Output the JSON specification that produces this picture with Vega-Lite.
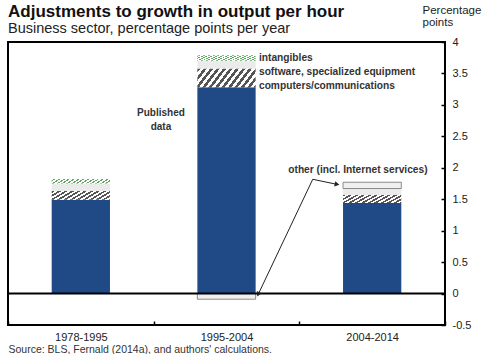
{
  "$schema": "https://vega.github.io/schema/vega-lite/v6.json",
  "width": 437,
  "height": 283,
  "autosize": "none",
  "padding": {"left": 8, "top": 42, "right": 43, "bottom": 29},
  "background": "white",
  "config": {"font": "Liberation Sans", "view": {"stroke": "black", "strokeWidth": 2}, "axis": {"labelOverlap": false}},
  "title": {
    "text": "Adjustments to growth in output per hour",
    "subtitle": "Business sector, percentage points per year",
    "anchor": "start",
    "frame": "group",
    "fontSize": 17,
    "fontWeight": "bold",
    "color": "#111111",
    "subtitleFontSize": 14.5,
    "subtitleColor": "#222222",
    "subtitlePadding": 1,
    "offset": -32
  },
  "datasets": {
    "bars": [
      {"period": "1978-1995", "component": "published", "ord": 1, "value": 1.49},
      {"period": "1978-1995", "component": "computers", "ord": 2, "value": 0.14},
      {"period": "1978-1995", "component": "software", "ord": 3, "value": 0.12},
      {"period": "1978-1995", "component": "intangibles", "ord": 4, "value": 0.07},
      {"period": "1995-2004", "component": "published", "ord": 1, "value": 3.28},
      {"period": "1995-2004", "component": "computers", "ord": 2, "value": 0.30},
      {"period": "1995-2004", "component": "software", "ord": 3, "value": 0.12},
      {"period": "1995-2004", "component": "intangibles", "ord": 4, "value": 0.09},
      {"period": "1995-2004", "component": "other", "ord": 5, "value": -0.09},
      {"period": "2004-2014", "component": "published", "ord": 1, "value": 1.44},
      {"period": "2004-2014", "component": "computers", "ord": 2, "value": 0.13},
      {"period": "2004-2014", "component": "software", "ord": 3, "value": 0.10},
      {"period": "2004-2014", "component": "other", "ord": 5, "value": 0.10}
    ],
    "arrowline": [
      {"o": 0, "ax": 2.259, "ay": 1.736},
      {"o": 1, "ax": 2.092, "ay": 1.817},
      {"o": 2, "ax": 1.718, "ay": -0.011}
    ],
    "labels": [
      {"label": "intangibles", "ax": 1.723, "ay": 3.75},
      {"label": "software, specialized equipment", "ax": 1.723, "ay": 3.53},
      {"label": "computers/communications", "ax": 1.723, "ay": 3.30},
      {"label": "other (incl. Internet services)", "ax": 1.924, "ay": 1.965}
    ]
  },
  "layer": [
    {
      "data": {"name": "bars"},
      "mark": {"type": "bar", "width": {"band": 0.4}, "strokeWidth": 1},
      "encoding": {
        "x": {
          "field": "period",
          "type": "nominal",
          "sort": null,
          "scale": {"paddingInner": 0, "paddingOuter": 0},
          "axis": {
            "title": "Source: BLS, Fernald (2014a), and authors' calculations.",
            "labelAngle": 0,
            "tickBand": "extent",
            "domain": false,
            "offset": -4,
            "tickSize": 4,
            "tickColor": "black",
            "tickWidth": 1.5,
            "labelPadding": 6,
            "labelFontSize": 11,
            "labelColor": "#222222",
            "labelOverlap": false,
            "titleAnchor": "start",
            "titleAlign": "left",
            "titleFontWeight": "normal",
            "titleFontSize": 10.5,
            "titleColor": "#333333",
            "titlePadding": 2,
            "zindex": 2
          }
        },
        "y": {
          "field": "value",
          "type": "quantitative",
          "stack": "zero",
          "scale": {"domain": [-0.5, 4], "nice": false},
          "axis": {
            "orient": "right",
            "values": [-0.5, 0, 0.5, 1, 1.5, 2, 2.5, 3, 3.5, 4],
            "labelExpr": "replace(format(datum.value, '~g'), '\u2212', '-')",
            "labelOverlap": false,
            "labelBound": false,
            "domain": false,
            "grid": false,
            "offset": -4,
            "tickSize": 4,
            "tickColor": "black",
            "tickWidth": 1.5,
            "labelPadding": 7,
            "labelFontSize": 11,
            "labelColor": "#222222",
            "title": ["Percentage", "points"],
            "titleAngle": 0,
            "titleAlign": "left",
            "titleBaseline": "top",
            "titleX": -19,
            "titleY": -38,
            "titleFontWeight": "normal",
            "titleFontSize": 11.5,
            "titleColor": "#222222",
            "titleLineHeight": 12,
            "zindex": 2
          }
        },
        "fill": {
          "condition": [
            {"test": "datum.component === 'published'", "value": "#1f4a86"},
            {"test": "datum.component === 'computers'", "value": {
              "gradient": "linear", "x1": 0, "y1": 0, "x2": 1.25, "y2": 0.3125,
              "stops": [
                {"offset": 0, "color": "#555555"}, {"offset": 0.0417, "color": "#555555"}, {"offset": 0.0417, "color": "#ffffff"}, {"offset": 0.0833, "color": "#ffffff"},
                {"offset": 0.0833, "color": "#555555"}, {"offset": 0.125, "color": "#555555"}, {"offset": 0.125, "color": "#ffffff"}, {"offset": 0.1667, "color": "#ffffff"},
                {"offset": 0.1667, "color": "#555555"}, {"offset": 0.2083, "color": "#555555"}, {"offset": 0.2083, "color": "#ffffff"}, {"offset": 0.25, "color": "#ffffff"},
                {"offset": 0.25, "color": "#555555"}, {"offset": 0.2917, "color": "#555555"}, {"offset": 0.2917, "color": "#ffffff"}, {"offset": 0.3333, "color": "#ffffff"},
                {"offset": 0.3333, "color": "#555555"}, {"offset": 0.375, "color": "#555555"}, {"offset": 0.375, "color": "#ffffff"}, {"offset": 0.4167, "color": "#ffffff"},
                {"offset": 0.4167, "color": "#555555"}, {"offset": 0.4583, "color": "#555555"}, {"offset": 0.4583, "color": "#ffffff"}, {"offset": 0.5, "color": "#ffffff"},
                {"offset": 0.5, "color": "#555555"}, {"offset": 0.5417, "color": "#555555"}, {"offset": 0.5417, "color": "#ffffff"}, {"offset": 0.5833, "color": "#ffffff"},
                {"offset": 0.5833, "color": "#555555"}, {"offset": 0.625, "color": "#555555"}, {"offset": 0.625, "color": "#ffffff"}, {"offset": 0.6667, "color": "#ffffff"},
                {"offset": 0.6667, "color": "#555555"}, {"offset": 0.7083, "color": "#555555"}, {"offset": 0.7083, "color": "#ffffff"}, {"offset": 0.75, "color": "#ffffff"},
                {"offset": 0.75, "color": "#555555"}, {"offset": 0.7917, "color": "#555555"}, {"offset": 0.7917, "color": "#ffffff"}, {"offset": 0.8333, "color": "#ffffff"},
                {"offset": 0.8333, "color": "#555555"}, {"offset": 0.875, "color": "#555555"}, {"offset": 0.875, "color": "#ffffff"}, {"offset": 0.9167, "color": "#ffffff"},
                {"offset": 0.9167, "color": "#555555"}, {"offset": 0.9583, "color": "#555555"}, {"offset": 0.9583, "color": "#ffffff"}, {"offset": 1, "color": "#ffffff"}
              ]}},
            {"test": "datum.component === 'software'", "value": "#ebebeb"},
            {"test": "datum.component === 'intangibles'", "value": {
              "gradient": "linear", "x1": 0, "y1": 1, "x2": 1.25, "y2": 0.6875,
              "stops": [
                {"offset": 0, "color": "#62a462"}, {"offset": 0.025, "color": "#62a462"}, {"offset": 0.025, "color": "#ffffff"}, {"offset": 0.0625, "color": "#ffffff"},
                {"offset": 0.0625, "color": "#62a462"}, {"offset": 0.0875, "color": "#62a462"}, {"offset": 0.0875, "color": "#ffffff"}, {"offset": 0.125, "color": "#ffffff"},
                {"offset": 0.125, "color": "#62a462"}, {"offset": 0.15, "color": "#62a462"}, {"offset": 0.15, "color": "#ffffff"}, {"offset": 0.1875, "color": "#ffffff"},
                {"offset": 0.1875, "color": "#62a462"}, {"offset": 0.2125, "color": "#62a462"}, {"offset": 0.2125, "color": "#ffffff"}, {"offset": 0.25, "color": "#ffffff"},
                {"offset": 0.25, "color": "#62a462"}, {"offset": 0.275, "color": "#62a462"}, {"offset": 0.275, "color": "#ffffff"}, {"offset": 0.3125, "color": "#ffffff"},
                {"offset": 0.3125, "color": "#62a462"}, {"offset": 0.3375, "color": "#62a462"}, {"offset": 0.3375, "color": "#ffffff"}, {"offset": 0.375, "color": "#ffffff"},
                {"offset": 0.375, "color": "#62a462"}, {"offset": 0.4, "color": "#62a462"}, {"offset": 0.4, "color": "#ffffff"}, {"offset": 0.4375, "color": "#ffffff"},
                {"offset": 0.4375, "color": "#62a462"}, {"offset": 0.4625, "color": "#62a462"}, {"offset": 0.4625, "color": "#ffffff"}, {"offset": 0.5, "color": "#ffffff"},
                {"offset": 0.5, "color": "#62a462"}, {"offset": 0.525, "color": "#62a462"}, {"offset": 0.525, "color": "#ffffff"}, {"offset": 0.5625, "color": "#ffffff"},
                {"offset": 0.5625, "color": "#62a462"}, {"offset": 0.5875, "color": "#62a462"}, {"offset": 0.5875, "color": "#ffffff"}, {"offset": 0.625, "color": "#ffffff"},
                {"offset": 0.625, "color": "#62a462"}, {"offset": 0.65, "color": "#62a462"}, {"offset": 0.65, "color": "#ffffff"}, {"offset": 0.6875, "color": "#ffffff"},
                {"offset": 0.6875, "color": "#62a462"}, {"offset": 0.7125, "color": "#62a462"}, {"offset": 0.7125, "color": "#ffffff"}, {"offset": 0.75, "color": "#ffffff"},
                {"offset": 0.75, "color": "#62a462"}, {"offset": 0.775, "color": "#62a462"}, {"offset": 0.775, "color": "#ffffff"}, {"offset": 0.8125, "color": "#ffffff"},
                {"offset": 0.8125, "color": "#62a462"}, {"offset": 0.8375, "color": "#62a462"}, {"offset": 0.8375, "color": "#ffffff"}, {"offset": 0.875, "color": "#ffffff"},
                {"offset": 0.875, "color": "#62a462"}, {"offset": 0.9, "color": "#62a462"}, {"offset": 0.9, "color": "#ffffff"}, {"offset": 0.9375, "color": "#ffffff"},
                {"offset": 0.9375, "color": "#62a462"}, {"offset": 0.9625, "color": "#62a462"}, {"offset": 0.9625, "color": "#ffffff"}, {"offset": 1, "color": "#ffffff"}
              ]}}
          ],
          "value": "#f0f0f0"
        },
        "stroke": {"condition": {"test": "datum.component === 'other'", "value": "#8c8c8c"}, "value": null},
        "order": {"field": "ord", "type": "quantitative"}
      }
    },
    {
      "data": {"values": [{}]},
      "mark": {"type": "rule", "color": "black", "strokeWidth": 2},
      "encoding": {"y": {"datum": 0, "axis": null}}
    },
    {
      "data": {"name": "arrowline"},
      "mark": {"type": "line", "color": "#222222", "strokeWidth": 1},
      "encoding": {
        "x": {"field": "ax", "type": "quantitative", "scale": {"domain": [0, 3], "nice": false, "zero": false}, "axis": null},
        "y": {"field": "ay", "type": "quantitative", "axis": null},
        "order": {"field": "o", "type": "quantitative"}
      }
    },
    {
      "data": {"values": [{"ax": 2.259, "ay": 1.736}]},
      "mark": {"type": "point", "shape": "triangle-right", "filled": true, "color": "#222222", "size": 30, "angle": 12, "opacity": 1},
      "encoding": {
        "x": {"field": "ax", "type": "quantitative", "scale": {"domain": [0, 3], "nice": false, "zero": false}, "axis": null},
        "y": {"field": "ay", "type": "quantitative", "axis": null}
      }
    },
    {
      "data": {"values": [{"ax": 1.718, "ay": -0.011}]},
      "mark": {"type": "point", "shape": "triangle-right", "filled": true, "color": "#222222", "size": 30, "angle": 115, "opacity": 1},
      "encoding": {
        "x": {"field": "ax", "type": "quantitative", "scale": {"domain": [0, 3], "nice": false, "zero": false}, "axis": null},
        "y": {"field": "ay", "type": "quantitative", "axis": null}
      }
    },
    {
      "data": {"name": "labels"},
      "mark": {"type": "text", "align": "left", "baseline": "middle", "fontSize": 10.2, "fontWeight": "bold", "color": "#333333"},
      "encoding": {
        "x": {"field": "ax", "type": "quantitative", "scale": {"domain": [0, 3], "nice": false, "zero": false}, "axis": null},
        "y": {"field": "ay", "type": "quantitative", "axis": null},
        "text": {"field": "label"}
      }
    },
    {
      "data": {"values": [{"label": "Published\ndata", "ax": 1.05, "ay": 2.87}]},
      "mark": {"type": "text", "align": "center", "baseline": "middle", "fontSize": 10, "fontWeight": "bold", "color": "#333333", "lineBreak": "\n", "lineHeight": 14},
      "encoding": {
        "x": {"field": "ax", "type": "quantitative", "scale": {"domain": [0, 3], "nice": false, "zero": false}, "axis": null},
        "y": {"field": "ay", "type": "quantitative", "axis": null},
        "text": {"field": "label"}
      }
    }
  ],
  "resolve": {"scale": {"x": "independent"}, "axis": {"y": "independent"}}
}
